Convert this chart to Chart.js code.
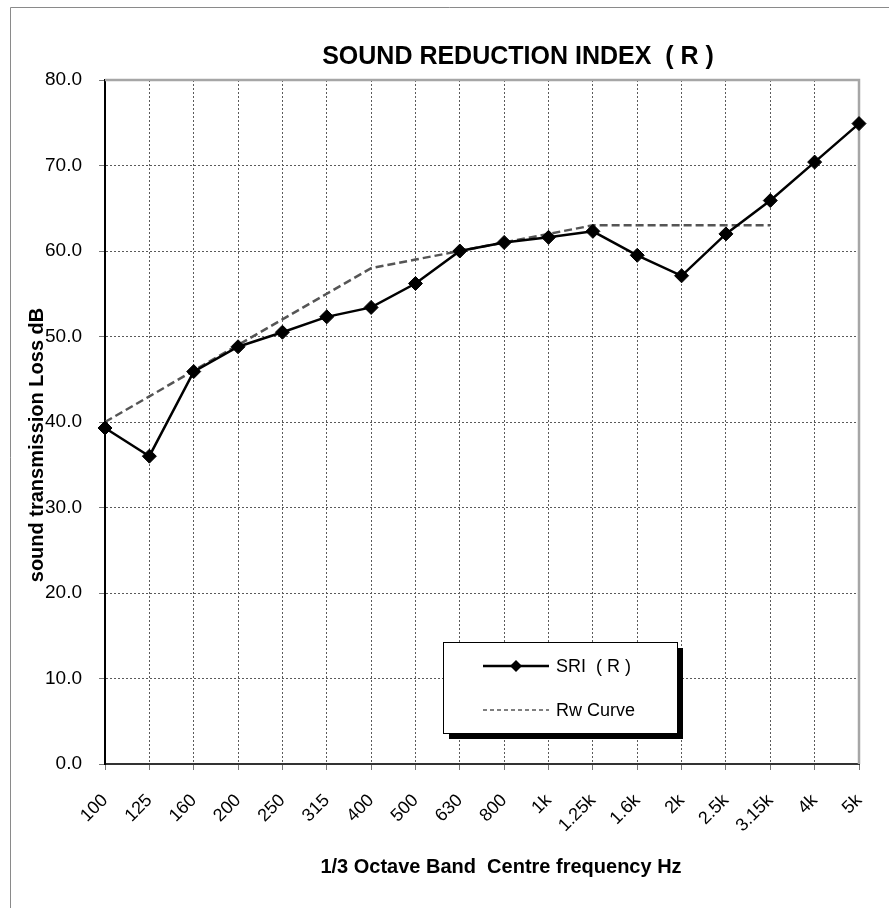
<!DOCTYPE html>
<html>
<head>
<meta charset="utf-8">
<script src="https://cdn.jsdelivr.net/npm/chart.js@4/dist/chart.umd.min.js"></script>
<style>
  html, body { margin: 0; padding: 0; background: #fff; }
  canvas { display: block; }
</style>
</head>
<body>
<canvas id="chart" width="889" height="908"></canvas>
<script>
// 1/3 octave band centre frequencies
const bands = ['100', '125', '160', '200', '250', '315', '400', '500', '630',
  '800', '1k', '1.25k', '1.6k', '2k', '2.5k', '3.15k', '4k', '5k'];

// measured sound reduction index, dB
const sri = [39.3, 36.0, 45.9, 48.8, 50.5, 52.3, 53.4, 56.2, 60.0,
  61.0, 61.6, 62.3, 59.5, 57.1, 62.0, 65.9, 70.4, 74.9];

// shifted reference curve (stops at 3.15k)
const rwCurve = [40, 43, 46, 49, 52, 55, 58, 59, 60,
  61, 62, 63, 63, 63, 63, 63, null, null];

// y axis ticks
const yTicks = [0, 10, 20, 30, 40, 50, 60, 70, 80];

const chartTitle = 'SOUND REDUCTION INDEX  ( R )';
const xTitle = '1/3 Octave Band  Centre frequency Hz';
const yTitle = 'sound transmission Loss dB';

const FONT = '"Liberation Sans", Arial, Helvetica, sans-serif';

// frame, titles and the boxed legend with a drop shadow
const decorations = {
  id: 'decorations',
  beforeDraw(chart) {
    const ctx = chart.ctx;
    ctx.save();
    ctx.strokeStyle = '#8a8a8a';
    ctx.lineWidth = 1;
    ctx.beginPath();
    ctx.moveTo(10.5, chart.height);
    ctx.lineTo(10.5, 7.5);
    ctx.lineTo(chart.width, 7.5);
    ctx.stroke();
    ctx.restore();
  },
  beforeDatasetsDraw(chart) {
    const { ctx, chartArea: a } = chart;
    ctx.save();
    ctx.strokeStyle = '#a6a6a6';
    ctx.lineWidth = 2.5;
    ctx.beginPath();
    ctx.moveTo(a.left, a.top);
    ctx.lineTo(a.right, a.top);
    ctx.lineTo(a.right, a.bottom);
    ctx.stroke();
    ctx.restore();
  },
  afterDraw(chart) {
    const ctx = chart.ctx;
    ctx.save();
    ctx.fillStyle = '#000';

    ctx.font = 'bold 25px ' + FONT;
    ctx.textAlign = 'center';
    ctx.textBaseline = 'alphabetic';
    ctx.fillText(chartTitle, 518, 64);

    ctx.font = 'bold 20px ' + FONT;
    ctx.fillText(xTitle, 501, 873);

    ctx.save();
    ctx.translate(43, 445);
    ctx.rotate(-Math.PI / 2);
    ctx.fillText(yTitle, 0, 0);
    ctx.restore();

    // legend
    const lx = 443, ly = 642, lw = 234, lh = 91;
    ctx.fillStyle = '#000';
    ctx.fillRect(lx + 6, ly + 6, lw, lh);
    ctx.fillStyle = '#fff';
    ctx.fillRect(lx, ly, lw, lh);
    ctx.strokeStyle = '#000';
    ctx.lineWidth = 1;
    ctx.strokeRect(lx + 0.5, ly + 0.5, lw, lh);

    const rows = [ly + 24, ly + 68];
    chart.data.datasets.forEach((ds, i) => {
      const y = rows[i];
      ctx.save();
      ctx.strokeStyle = ds.borderColor;
      ctx.lineWidth = i === 0 ? 2.5 : 1.5;
      ctx.setLineDash(i === 0 ? [] : [4, 3]);
      ctx.beginPath();
      ctx.moveTo(483, y);
      ctx.lineTo(549, y);
      ctx.stroke();
      ctx.restore();
      if (ds.pointRadius) {
        ctx.save();
        ctx.fillStyle = ds.pointBackgroundColor;
        ctx.beginPath();
        ctx.moveTo(516 - 6, y);
        ctx.lineTo(516, y - 6);
        ctx.lineTo(516 + 6, y);
        ctx.lineTo(516, y + 6);
        ctx.closePath();
        ctx.fill();
        ctx.restore();
      }
      ctx.fillStyle = '#000';
      ctx.font = '18px ' + FONT;
      ctx.textAlign = 'left';
      ctx.textBaseline = 'middle';
      ctx.fillText(ds.label, 556, y + 1);
    });
    ctx.restore();
  }
};

new Chart(document.getElementById('chart'), {
  type: 'line',
  data: {
    labels: bands,
    datasets: [
      {
        label: 'SRI  ( R )',
        data: sri,
        borderColor: '#000',
        borderWidth: 2.5,
        pointStyle: 'rectRot',
        pointRadius: 7,
        pointBackgroundColor: '#000',
        pointBorderColor: '#000',
        pointBorderWidth: 1,
        tension: 0,
        clip: false
      },
      {
        label: 'Rw Curve',
        data: rwCurve,
        borderColor: '#555',
        borderWidth: 2.5,
        borderDash: [8, 4],
        pointRadius: 0,
        tension: 0,
        spanGaps: false,
        clip: false
      }
    ]
  },
  options: {
    responsive: false,
    animation: false,
    layout: { padding: { top: 80, right: 30, left: 0, bottom: 0 } },
    plugins: {
      legend: { display: false },
      title: { display: false },
      tooltip: { enabled: false }
    },
    scales: {
      x: {
        afterFit(scale) {
          scale.height = 144;
          scale.paddingLeft = 0;
          scale.paddingRight = 0;
        },
        grid: {
          color: '#5a5a5a',
          lineWidth: 1,
          tickLength: 6,
          tickColor: '#777',
          tickWidth: 1
        },
        border: { color: '#333', width: 2, dash: [2, 2] },
        ticks: {
          autoSkip: false,
          minRotation: 45,
          maxRotation: 45,
          padding: 20,
          color: '#000',
          font: { family: FONT, size: 18 }
        }
      },
      y: {
        min: 0,
        max: 80,
        afterFit(scale) {
          scale.width = 105;
          scale.paddingTop = 0;
          scale.paddingBottom = 0;
        },
        afterBuildTicks(scale) { scale.ticks = yTicks.map(v => ({ value: v })); },
        grid: {
          color: '#5a5a5a',
          lineWidth: 1,
          tickLength: 6,
          tickColor: '#777',
          tickWidth: 1
        },
        border: { color: '#000', width: 2, dash: [2, 2] },
        ticks: {
          padding: 17,
          color: '#000',
          font: { family: FONT, size: 19 },
          callback: v => Number(v).toFixed(1)
        }
      }
    }
  },
  plugins: [decorations]
});
</script>
</body>
</html>
